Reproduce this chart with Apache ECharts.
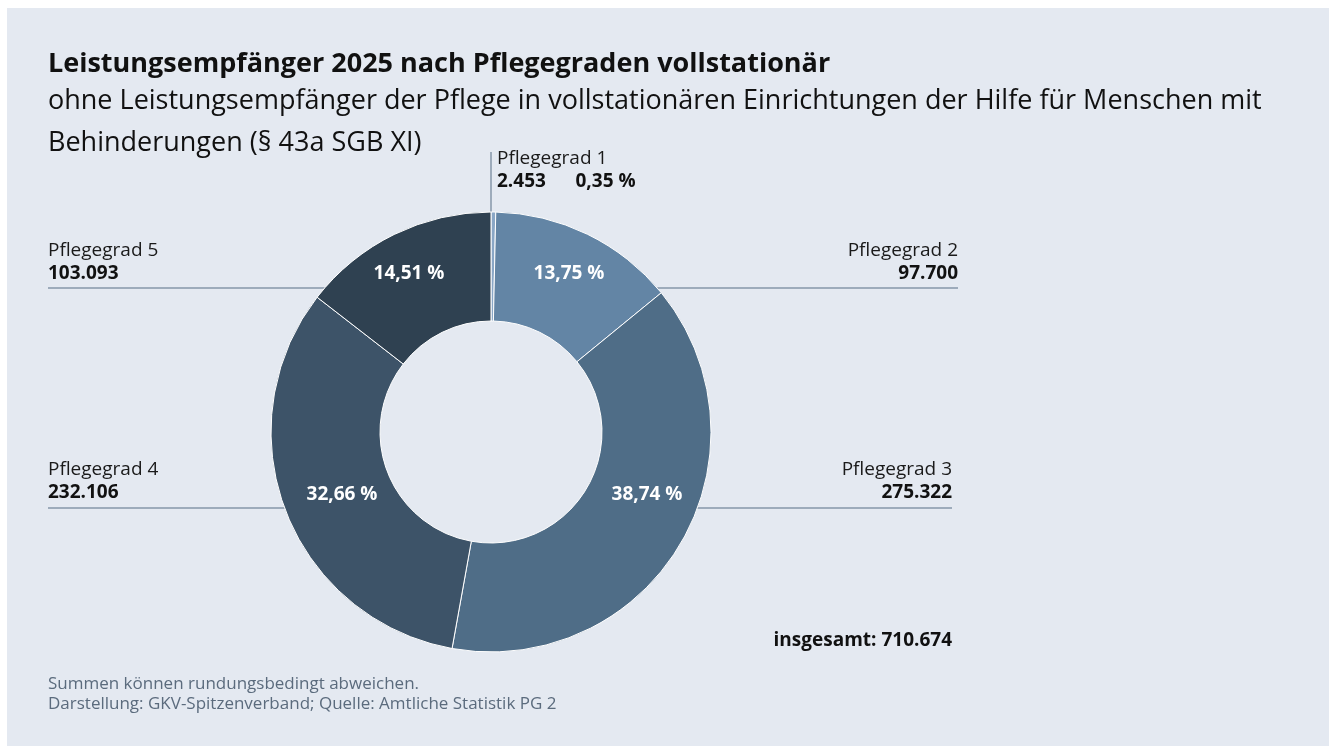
<!DOCTYPE html>
<html>
<head>
<meta charset="utf-8">
<title>Leistungsempfänger 2025 nach Pflegegraden vollstationär</title>
<script src="https://cdn.jsdelivr.net/npm/echarts@6.0.0/dist/echarts.min.js"></script>
<style>
  html, body { margin: 0; padding: 0; background: #fff; }
  #chart { width: 1335px; height: 747px; }
</style>
</head>
<body>
<div id="chart"></div>
<script>
// Daten
var categories = ['Pflegegrad 1', 'Pflegegrad 2', 'Pflegegrad 3', 'Pflegegrad 4', 'Pflegegrad 5'];
var values = [2453, 97700, 275322, 232106, 103093];

// Farben der Segmente
var colors = ['#8aa7c6', '#6385a5', '#4f6d87', '#3d5368', '#2f4151'];

var total = values.reduce(function (a, b) { return a + b; }, 0);

// Zahl mit Tausenderpunkt
function fmtNum(n) {
  return String(n).replace(/\B(?=(\d{3})+(?!\d))/g, '.');
}
function fmtPct(n) {
  return (n / total * 100).toFixed(2).replace('.', ',') + ' %';
}

var cx = 491, cy = 432, rIn = 111, rOut = 220;
var font = "'Open Sans', 'Noto Sans', sans-serif";
var lineColor = '#8696a8';

// x-Abstand vom Mittelpunkt, an dem eine waagrechte Linie den Ring trifft
function edge(y) {
  var dy = y - cy;
  return Math.sqrt(rOut * rOut - dy * dy);
}

// Positionen der Beschriftungen aussen (x, y, Ausrichtung, Linie)
var outerLayout = [
  { x: 497, y: 170, align: 'left', line: [[491, 152], [491, cy - rOut], [491, cy - rOut]] },
  { x: 958, y: 262, align: 'right', line: [[958, 288], [cx + edge(288), 288], [cx + edge(288), 288]] },
  { x: 952, y: 481, align: 'right', line: [[952, 508], [cx + edge(508), 508], [cx + edge(508), 508]] },
  { x: 48, y: 481, align: 'left', line: [[48, 508], [cx - edge(508), 508], [cx - edge(508), 508]] },
  { x: 48, y: 262, align: 'left', line: [[48, 288], [cx - edge(288), 288], [cx - edge(288), 288]] }
];
// Positionen der Prozentwerte innen
var innerLayout = [
  null,
  { x: 569, y: 274 },
  { x: 647, y: 495 },
  { x: 342, y: 495 },
  { x: 409, y: 274 }
];

var chart = echarts.init(document.getElementById('chart'), null, { renderer: 'canvas' });

var pieData = categories.map(function (c, i) {
  return { name: c, value: values[i], itemStyle: { color: colors[i] } };
});

var option = {
  backgroundColor: '#fff',
  animation: false,
  textStyle: { fontFamily: font },
  title: {
    text: 'Leistungsempfänger 2025 nach Pflegegraden vollstationär',
    subtext: 'ohne Leistungsempfänger der Pflege in vollstationären Einrichtungen der Hilfe für Menschen mit\nBehinderungen (§ 43a SGB XI)',
    left: 48,
    top: 48,
    padding: 0,
    itemGap: 0,
    textStyle: { fontFamily: font, fontSize: 27, fontWeight: 'bold', color: '#111', lineHeight: 32 },
    subtextStyle: { fontFamily: font, fontSize: 27, color: '#111', lineHeight: 42 }
  },
  graphic: [
    {
      type: 'rect', z: -10, silent: true,
      shape: { x: 7, y: 8, width: 1322, height: 738 },
      style: { fill: '#e4e9f1' }
    },
    {
      type: 'text', z: 10,
      style: {
        x: 952, y: 641, text: 'insgesamt: ' + fmtNum(total),
        align: 'right', verticalAlign: 'middle',
        fontFamily: font, fontSize: 19, fontWeight: 'bold', fill: '#111'
      }
    },
    {
      type: 'text', z: 10,
      style: {
        x: 48, y: 684, text: 'Summen können rundungsbedingt abweichen.',
        verticalAlign: 'middle', fontFamily: font, fontSize: 17, fill: '#5b6b7d'
      }
    },
    {
      type: 'text', z: 10,
      style: {
        x: 48, y: 704, text: 'Darstellung: GKV-Spitzenverband; Quelle: Amtliche Statistik PG 2',
        verticalAlign: 'middle', fontFamily: font, fontSize: 17, fill: '#5b6b7d'
      }
    }
  ],
  series: [
    {
      // unsichtbare Serie nur fuer die Beschriftungen aussen
      type: 'pie',
      z: 1,
      silent: true,
      center: [cx, cy],
      radius: [rIn, rOut],
      startAngle: 90,
      data: pieData.map(function (d) {
        return { name: d.name, value: d.value, itemStyle: { color: 'rgba(0,0,0,0)' } };
      }),
      label: {
        show: true,
        position: 'outside',
        fontFamily: font,
        formatter: function (p) {
          if (p.dataIndex === 0) {
            return '{n|' + p.name + '}\n{b|' + fmtNum(p.value) + '      ' + fmtPct(p.value) + '}';
          }
          return '{n|' + p.name + '}\n{b|' + fmtNum(p.value) + '}';
        },
        rich: {
          n: { fontFamily: font, fontSize: 19, color: '#1a1a1a', lineHeight: 23 },
          b: { fontFamily: font, fontSize: 19, fontWeight: 'bold', color: '#111', lineHeight: 23 }
        }
      },
      labelLine: {
        show: true,
        lineStyle: { color: lineColor, width: 1.5 }
      },
      labelLayout: function (p) {
        var l = outerLayout[p.dataIndex];
        return {
          x: l.x, y: l.y, align: l.align, verticalAlign: 'middle',
          labelLinePoints: l.line
        };
      }
    },
    {
      type: 'pie',
      z: 2,
      center: [cx, cy],
      radius: [rIn, rOut],
      startAngle: 90,
      data: pieData,
      itemStyle: { borderColor: '#fff', borderWidth: 1 },
      label: {
        show: true,
        position: 'inside',
        formatter: function (p) {
          return p.dataIndex === 0 ? '' : fmtPct(p.value);
        },
        fontFamily: font,
        fontSize: 19,
        fontWeight: 'bold',
        color: '#fff'
      },
      labelLine: { show: false },
      labelLayout: function (p) {
        var l = innerLayout[p.dataIndex];
        if (!l) return {};
        return { x: l.x, y: l.y, align: 'center', verticalAlign: 'middle' };
      },
      emphasis: { disabled: true }
    }
  ]
};

chart.setOption(option);
</script>
</body>
</html>
